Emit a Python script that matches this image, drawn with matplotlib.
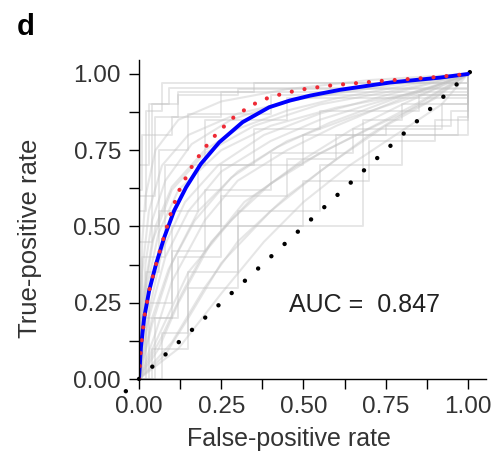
import numpy as np
import matplotlib
matplotlib.use("Agg")
import matplotlib.pyplot as plt


# ==========================================================================
# data
# ==========================================================================
# individual ROC curves (gray, blocky steps)
step_fpr = [
    [0, 0, 0.02, 0.07, 1],
    [0, 0, 0.03, 0.09, 1],
    [0, 0, 0.05, 0.12, 0.30, 1],
    [0, 0, 0.04, 0.10, 0.25, 1],
    [0, 0, 0.06, 0.15, 0.40, 1],
    [0, 0.01, 0.08, 0.20, 0.45, 1],
    [0, 0, 0.68, 0.80, 1],
    [0, 0.03, 0.10, 0.25, 0.50, 0.75, 0.95, 1],
    [0, 0.07, 0.15, 0.30, 0.50, 0.70, 0.90, 1],
    [0, 0.05, 0.12, 0.25, 0.45, 0.60, 0.97, 1],
    [0, 0.02, 0.06, 0.18, 0.35, 0.55, 0.85, 1],
    [0, 0, 0.10, 0.20, 0.40, 0.65, 0.92, 1],
    [0, 0.04, 0.15, 0.30, 0.55, 0.80, 1],
    [0, 0, 0.01, 0.04, 0.12, 0.35, 1],
]
step_tpr = [
    [0, 0.55, 0.88, 0.97, 1],
    [0, 0.70, 0.90, 0.955, 1],
    [0, 0.60, 0.86, 0.93, 0.95, 1],
    [0, 0.45, 0.80, 0.86, 0.94, 1],
    [0, 0.50, 0.75, 0.87, 0.93, 1],
    [0, 0.40, 0.70, 0.85, 0.92, 1],
    [0, 0.50, 0.85, 0.90, 1],
    [0, 0.25, 0.50, 0.70, 0.80, 0.83, 0.88, 1],
    [0, 0.15, 0.30, 0.50, 0.65, 0.78, 0.85, 1],
    [0, 0.20, 0.40, 0.60, 0.72, 0.80, 0.86, 1],
    [0, 0.35, 0.55, 0.70, 0.82, 0.88, 0.93, 1],
    [0, 0.20, 0.42, 0.62, 0.74, 0.82, 0.90, 1],
    [0, 0.10, 0.35, 0.55, 0.70, 0.80, 1],
    [0, 0.62, 0.80, 0.90, 0.94, 0.97, 1],
]

# individual ROC curves (gray, fine steps that look smooth)
smooth_fpr = [
    [0, 0.02, 0.05, 0.10, 0.20, 0.30, 0.45, 0.60, 0.80, 1],
    [0, 0.03, 0.08, 0.15, 0.25, 0.40, 0.55, 0.70, 0.90, 1],
    [0, 0.05, 0.10, 0.20, 0.30, 0.45, 0.60, 0.80, 1],
    [0, 0.06, 0.12, 0.22, 0.35, 0.50, 0.65, 0.80, 1],
    [0, 0.08, 0.15, 0.25, 0.40, 0.55, 0.70, 0.85, 1],
    [0, 0.01, 0.03, 0.07, 0.15, 0.30, 0.50, 0.75, 1],
    [0, 0.01, 0.04, 0.10, 0.20, 0.35, 0.55, 0.80, 1],
    [0, 0.04, 0.10, 0.18, 0.30, 0.45, 0.65, 0.85, 1],
    [0, 0.10, 0.20, 0.30, 0.45, 0.60, 0.75, 0.90, 1],
    [0, 0.02, 0.06, 0.12, 0.25, 0.40, 0.60, 0.85, 1],
    [0, 0.05, 0.15, 0.28, 0.40, 0.55, 0.70, 0.88, 1],
    [0, 0.01, 0.02, 0.05, 0.12, 0.25, 0.45, 0.70, 1],
    [0, 0.03, 0.07, 0.14, 0.24, 0.38, 0.55, 0.75, 1],
    [0, 0.04, 0.09, 0.17, 0.28, 0.42, 0.58, 0.78, 1],
    [0, 0.07, 0.13, 0.20, 0.32, 0.48, 0.66, 0.84, 1],
    [0, 0.12, 0.25, 0.38, 0.50, 0.64, 0.78, 0.92, 1],
    [0, 0.02, 0.04, 0.08, 0.16, 0.28, 0.45, 0.70, 1],
]
smooth_tpr = [
    [0, 0.30, 0.50, 0.63, 0.75, 0.82, 0.88, 0.92, 0.96, 1],
    [0, 0.20, 0.40, 0.55, 0.68, 0.78, 0.85, 0.90, 0.96, 1],
    [0, 0.15, 0.32, 0.52, 0.65, 0.75, 0.83, 0.92, 1],
    [0, 0.10, 0.25, 0.45, 0.60, 0.72, 0.82, 0.90, 1],
    [0, 0.08, 0.20, 0.38, 0.55, 0.68, 0.80, 0.90, 1],
    [0, 0.35, 0.55, 0.70, 0.80, 0.87, 0.92, 0.96, 1],
    [0, 0.25, 0.45, 0.62, 0.74, 0.83, 0.90, 0.95, 1],
    [0, 0.18, 0.38, 0.55, 0.68, 0.78, 0.86, 0.93, 1],
    [0, 0.12, 0.30, 0.45, 0.60, 0.72, 0.83, 0.92, 1],
    [0, 0.28, 0.48, 0.62, 0.75, 0.83, 0.89, 0.94, 1],
    [0, 0.12, 0.35, 0.52, 0.64, 0.74, 0.82, 0.91, 1],
    [0, 0.45, 0.60, 0.75, 0.85, 0.91, 0.95, 0.98, 1],
    [0, 0.22, 0.42, 0.58, 0.70, 0.80, 0.87, 0.93, 1],
    [0, 0.20, 0.36, 0.52, 0.66, 0.76, 0.84, 0.92, 1],
    [0, 0.14, 0.28, 0.42, 0.58, 0.70, 0.80, 0.90, 1],
    [0, 0.10, 0.28, 0.45, 0.58, 0.70, 0.80, 0.90, 1],
    [0, 0.38, 0.52, 0.65, 0.77, 0.85, 0.91, 0.96, 1],
]

# pooled ROC (blue) and fitted ROC (red dotted)
mean_fpr = [0, 0.006, 0.016, 0.031, 0.052, 0.077, 0.107, 0.143, 0.188, 0.244,
            0.315, 0.396, 0.459, 0.52, 0.611, 0.763, 0.915, 1]
mean_tpr = [0, 0.104, 0.202, 0.29, 0.377, 0.465, 0.552, 0.628, 0.705, 0.776,
            0.842, 0.891, 0.913, 0.929, 0.948, 0.972, 0.988, 1]
fit_fpr = [0, 0.006, 0.016, 0.031, 0.052, 0.077, 0.100, 0.125, 0.160, 0.194,
           0.239, 0.295, 0.356, 0.40, 0.487, 0.58, 0.733, 0.884, 1]
fit_tpr = [0, 0.104, 0.202, 0.29, 0.377, 0.47, 0.555, 0.625, 0.695, 0.750,
           0.808, 0.865, 0.905, 0.925, 0.948, 0.962, 0.977, 0.988, 1]

diag = [-0.04, 1.035]
auc_text = "AUC =  0.847"
ticks = [0, 0.25, 0.5, 0.75, 1.0]
tick_labels = ["0.00", "0.25", "0.50", "0.75", "1.00"]
minor = [0.125, 0.375, 0.625, 0.875]


# ==========================================================================
# plot
# ==========================================================================
plt.rcParams['font.family'] = ['Liberation Sans', 'DejaVu Sans']
fig = plt.figure(figsize=(5.01, 4.72), dpi=100)
ax = fig.add_axes([0.2774, 0.197, 0.6926, 0.676])

gray = '#c2c2c2'
for fx, fy in zip(step_fpr, step_tpr):
    ax.plot(fx, fy, color=gray, lw=1.4, alpha=0.4, drawstyle='steps-post')
for fx, fy in zip(smooth_fpr, smooth_tpr):
    ax.plot(fx, fy, color=gray, lw=1.5, alpha=0.4)

ax.plot(diag, diag, color='black', lw=3.2, linestyle=(0, (0.01, 4.05)),
        dash_capstyle='round', clip_on=False)
ax.plot(mean_fpr, mean_tpr, color='#0000ff', lw=2.8, solid_capstyle='round',
        solid_joinstyle='round')
ax.plot(fit_fpr, fit_tpr, color='#ee2a35', lw=3.0, linestyle=(0, (0.01, 3.1)),
        dash_capstyle='round')

ax.text(0.456, 0.243, auc_text, fontsize=18, color='#222222', va='center', ha='left')

ax.set_xlim(0, 1.055)
ax.set_ylim(0, 1.046)
ax.set_xticks(ticks)
ax.set_xticklabels(tick_labels)
ax.set_yticks(ticks)
ax.set_yticklabels(tick_labels)
ax.set_xticks(minor, minor=True)
ax.set_yticks(minor, minor=True)
ax.tick_params(which='both', direction='out', length=7, width=1, color='black')
ax.tick_params(axis='x', pad=5, labelsize=17.5, labelcolor='#333333')
ax.tick_params(axis='y', pad=6, labelsize=17.5, labelcolor='#333333')
for s in ['top', 'right']:
    ax.spines[s].set_visible(False)
for s in ['left', 'bottom']:
    ax.spines[s].set_linewidth(1)

ax.set_xlabel('False-positive rate', fontsize=18, color='#333333')
ax.set_ylabel('True-positive rate', fontsize=18.5, color='#333333')
ax.xaxis.set_label_coords(0.432, -0.15)
ax.yaxis.set_label_coords(-0.28, 0.442)

fig.text(0.034, 0.942, 'd', fontsize=21, fontweight='bold', va='center', ha='left')

fig.savefig('out.png', dpi=100)
